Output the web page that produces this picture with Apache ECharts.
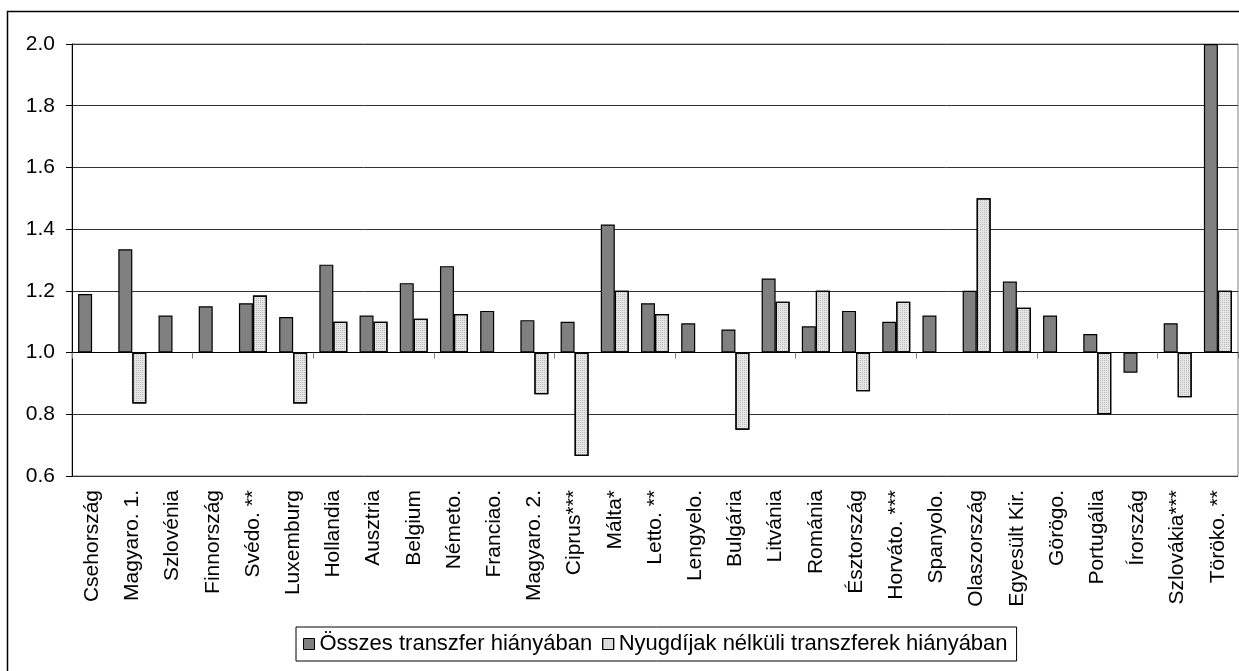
<!DOCTYPE html>
<html>
<head>
<meta charset="utf-8">
<script src="https://cdn.jsdelivr.net/npm/echarts@6/dist/echarts.min.js"></script>
<style>
  html, body { margin: 0; padding: 0; background: #fff; }
  #main { width: 1239px; height: 671px; }
</style>
</head>
<body>
<div id="main"></div>
<script>
// országok
var categories = ['Csehország', 'Magyaro. 1.', 'Szlovénia', 'Finnország', 'Svédo. **', 'Luxemburg',
  'Hollandia', 'Ausztria', 'Belgium', 'Németo.', 'Franciao.', 'Magyaro. 2.', 'Ciprus***', 'Málta*',
  'Letto. **', 'Lengyelo.', 'Bulgária', 'Litvánia', 'Románia', 'Észtország', 'Horváto. ***',
  'Spanyolo.', 'Olaszország', 'Egyesült Kir.', 'Görögo.', 'Portugália', 'Írország', 'Szlovákia***',
  'Töröko. **'];

// Összes transzfer hiányában
var osszes = [1.19, 1.335, 1.12, 1.15, 1.16, 1.115, 1.285, 1.12, 1.225, 1.28, 1.135, 1.105, 1.10, 1.415,
  1.16, 1.095, 1.075, 1.24, 1.085, 1.135, 1.10, 1.12, 1.20, 1.23, 1.12, 1.06, 0.935, 1.095, 2.0];

// Nyugdíjak nélküli transzferek hiányában
var nyugdij = [null, 0.835, null, null, 1.185, 0.835, 1.10, 1.10, 1.11, 1.125, null, 0.865, 0.665, 1.20,
  1.125, null, 0.75, 1.165, 1.20, 0.875, 1.165, null, 1.50, 1.145, null, 0.80, null, 0.855, 1.20];

var seriesNames = ['Összes transzfer hiányában', 'Nyugdíjak nélküli transzferek hiányában'];

// the bars grow from 1.0, so the value axis is shifted by 1
var BASE = 1;
function shift(arr) {
  return arr.map(function (v) { return v == null ? '-' : +(v - BASE).toFixed(4); });
}

var FONT = "'Liberation Sans', Arial, sans-serif";

var chart = echarts.init(document.getElementById('main'));
var option = {
  backgroundColor: '#fff',
  animation: false,
  textStyle: { fontFamily: FONT, color: '#000' },
  graphic: [{
    type: 'rect',
    shape: { x: 7.5, y: 11.5, width: 1240, height: 670 },
    style: { fill: 'none', stroke: '#000', lineWidth: 1.5 },
    silent: true
  }],
  grid: {
    left: 72, right: 1, top: 44, bottom: 195,
    show: true, borderColor: '#808080', borderWidth: 1
  },
  legend: {
    data: seriesNames,
    left: 296, top: 627,
    padding: [6, 9, 6, 7],
    itemGap: 10,
    icon: 'rect',
    itemWidth: 11, itemHeight: 11,
    borderColor: '#000', borderWidth: 1,
    textStyle: { fontSize: 22, fontFamily: FONT, color: '#000' },
    itemStyle: { borderColor: '#000', borderWidth: 1 }
  },
  xAxis: [
    {
      type: 'category',
      data: categories,
      axisLine: { onZero: true, lineStyle: { color: '#000', width: 1 } },
      axisTick: { show: true, length: 6, lineStyle: { color: '#808080' } },
      axisLabel: { show: false },
      splitLine: { show: false }
    },
    {
      type: 'category',
      data: categories,
      position: 'bottom',
      axisLine: { show: false, onZero: false },
      axisTick: { show: false },
      axisLabel: {
        rotate: 90, margin: 14, interval: 0,
        fontSize: 21, fontFamily: FONT, color: '#000'
      }
    }
  ],
  yAxis: {
    type: 'value',
    min: -0.4, max: 1.0, interval: 0.2,
    axisLine: { show: true, lineStyle: { color: '#000', width: 1 } },
    axisTick: { show: true, length: 6, lineStyle: { color: '#000' } },
    axisLabel: {
      margin: 17, fontSize: 21, fontFamily: FONT, color: '#000',
      formatter: function (v) { return (v + BASE).toFixed(1); }
    },
    splitLine: { show: true, lineStyle: { color: '#333', width: 1 } }
  },
  series: [
    {
      name: seriesNames[0],
      type: 'bar',
      xAxisIndex: 0,
      data: shift(osszes),
      barWidth: 14,
      barGap: '0%',
      itemStyle: { color: '#808080', borderColor: '#000', borderWidth: 1.2 }
    },
    {
      name: seriesNames[1],
      type: 'bar',
      xAxisIndex: 0,
      data: shift(nyugdij),
      barWidth: 14,
      barGap: '0%',
      itemStyle: {
        color: '#e6e6e6', borderColor: '#000', borderWidth: 1.2,
        decal: {
          symbol: 'rect', symbolSize: 1,
          dashArrayX: [1, 1], dashArrayY: [1, 1],
          color: 'rgba(0,0,0,0.18)'
        }
      }
    }
  ]
};
chart.setOption(option);
</script>
</body>
</html>
